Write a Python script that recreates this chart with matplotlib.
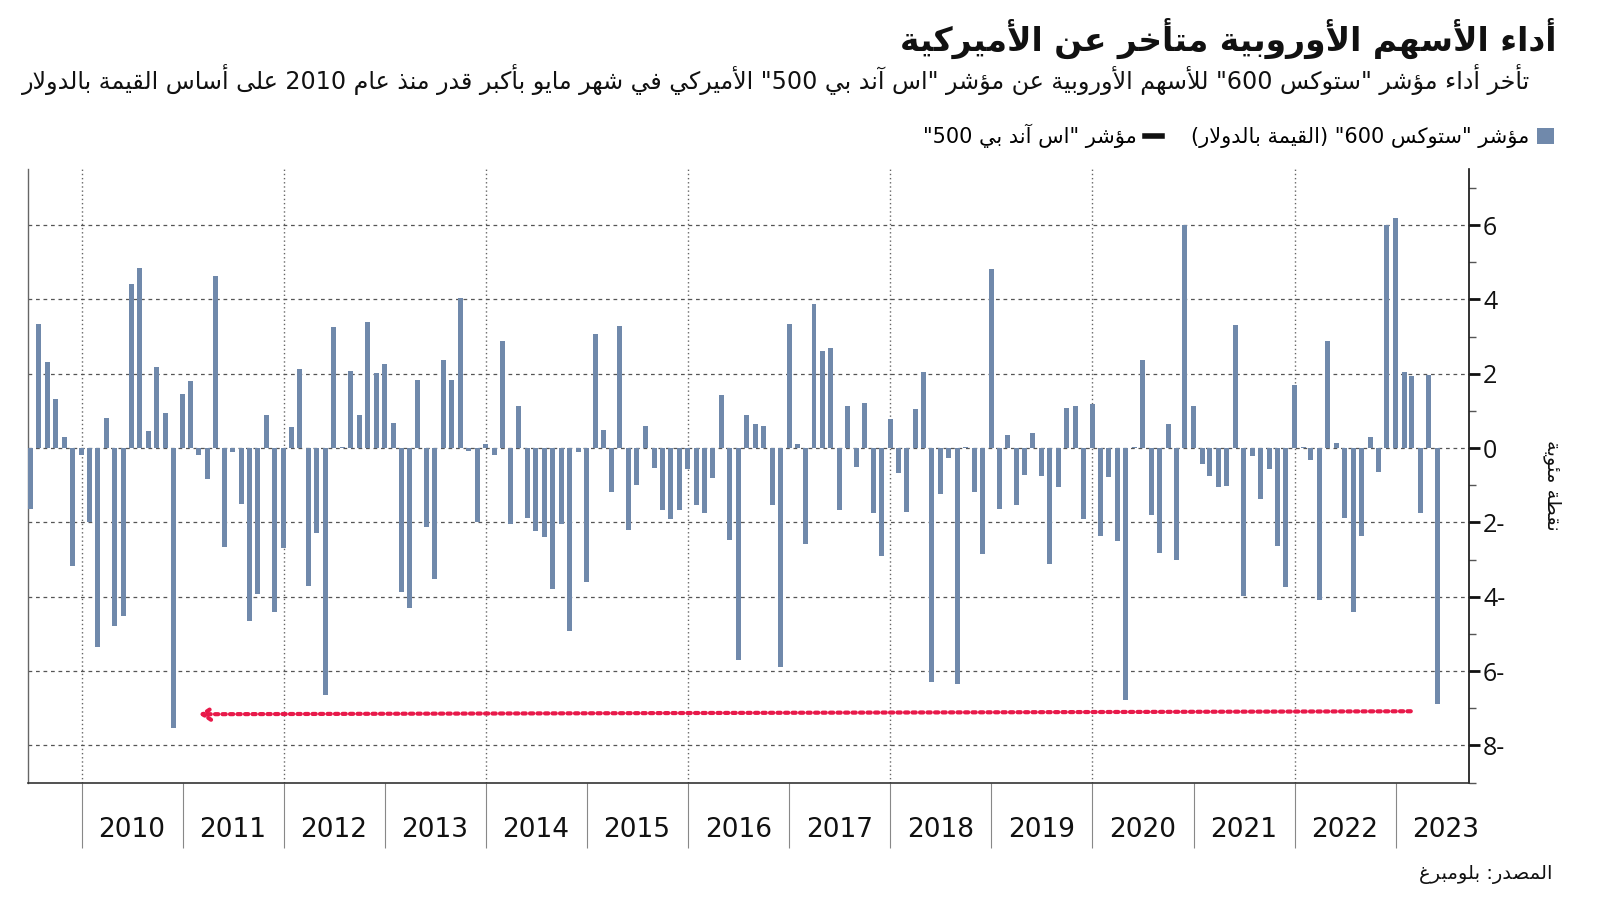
import re
import pandas as pd
import matplotlib
matplotlib.use("Agg")
import matplotlib.pyplot as plt
import matplotlib.dates as mdates
from matplotlib.patches import Patch
from matplotlib.lines import Line2D

# ---------------- data ----------------
start_month = "2009-06-01"
rel_perf = [
    -1.63, 3.35, 2.32, 1.31, 0.31, -3.17, -0.19,
    -2.00, -5.36, 0.80, -4.79, -4.51, 4.42, 4.86, 0.46, 2.18, 0.94, -7.54, 1.46,
    1.80, -0.19, -0.82, 4.63, -2.67, -0.11, -1.50, -4.64, -3.92, 0.88, -4.40, -2.68,
    0.56, 2.12, -3.71, -2.29, -6.64, 3.25, 0.02, 2.08, 0.88, 3.40, 2.02, 2.26,
    0.67, -3.88, -4.29, 1.84, -2.12, -3.53, 2.37, 1.84, 4.05, -0.09, -2.00, 0.11,
    -0.19, 2.87, -2.05, 1.14, -1.87, -2.22, -2.40, -3.80, -2.05, -4.91, -0.11, -3.60,
    3.08, 0.49, -1.19, 3.29, -2.19, -0.99, 0.60, -0.54, -1.66, -1.92, -1.66, -0.57,
    -1.53, -1.74, -0.81, 1.42, -2.46, -5.71, 0.88, 0.64, 0.60, -1.53, -5.88, 3.35,
    0.11, -2.57, 3.87, 2.60, 2.69, -1.66, 1.14, -0.50, 1.22, -1.74, -2.91, 0.78,
    -0.68, -1.71, 1.05, 2.05, -6.30, -1.23, -0.26, -6.34, 0.02, -1.19, -2.85, 4.81,
    -1.64, 0.35, -1.53, -0.71, 0.42, -0.76, -3.12, -1.05, 1.07, 1.12, -1.92, 1.18,
    -2.37, -0.78, -2.50, -6.78, 0.03, 2.37, -1.81, -2.81, 0.64, -3.01, 6.00, 1.12,
    -0.43, -0.74, -1.05, -1.02, 3.32, -3.99, -0.22, -1.36, -0.57, -2.63, -3.75, 1.70,
    0.02, -0.32, -4.09, 2.87, 0.15, -1.87, -4.40, -2.37, 0.31, -0.64, 6.00, 6.19,
    2.05, 1.93, -1.74, 1.98, -6.89,
]
years = list(range(2010, 2024))
year_labels = [str(y) for y in years]
y_ticks = [-8, -6, -4, -2, 0, 2, 4, 6]
y_minor = [-9, -7, -5, -3, -1, 1, 3, 5, 7]
arrow_from = ("2023-02-24", -7.08)
arrow_to = ("2011-03-01", -7.16)

title = "أداء الأسهم الأوروبية متأخر عن الأميركية"
subtitle = ('تأخر أداء مؤشر "ستوكس 600" للأسهم الأوروبية عن مؤشر "اس آند بي 500" '
            'الأميركي في شهر مايو بأكبر قدر منذ عام 2010 على أساس القيمة بالدولار')
legend_stoxx = 'مؤشر "ستوكس 600" (القيمة بالدولار)'
legend_sp = 'مؤشر "اس آند بي 500"'
y_label = "نقطة مئوية"
source = "المصدر: بلومبرغ"

# ---------------- minimal Arabic shaping + bidi ----------------
_spec = [("\u0621", 0xFE80, 1), ("\u0622", 0xFE81, 2), ("\u0623", 0xFE83, 2),
         ("\u0624", 0xFE85, 2), ("\u0625", 0xFE87, 2), ("\u0626", 0xFE89, 4),
         ("\u0627", 0xFE8D, 2), ("\u0628", 0xFE8F, 4), ("\u0629", 0xFE93, 2),
         ("\u062A", 0xFE95, 4), ("\u062B", 0xFE99, 4), ("\u062C", 0xFE9D, 4),
         ("\u062D", 0xFEA1, 4), ("\u062E", 0xFEA5, 4), ("\u062F", 0xFEA9, 2),
         ("\u0630", 0xFEAB, 2), ("\u0631", 0xFEAD, 2), ("\u0632", 0xFEAF, 2),
         ("\u0633", 0xFEB1, 4), ("\u0634", 0xFEB5, 4), ("\u0635", 0xFEB9, 4),
         ("\u0636", 0xFEBD, 4), ("\u0637", 0xFEC1, 4), ("\u0638", 0xFEC5, 4),
         ("\u0639", 0xFEC9, 4), ("\u063A", 0xFECD, 4), ("\u0641", 0xFED1, 4),
         ("\u0642", 0xFED5, 4), ("\u0643", 0xFED9, 4), ("\u0644", 0xFEDD, 4),
         ("\u0645", 0xFEE1, 4), ("\u0646", 0xFEE5, 4), ("\u0647", 0xFEE9, 4),
         ("\u0648", 0xFEED, 2), ("\u0649", 0xFEEF, 2), ("\u064A", 0xFEF1, 4)]
FORMS = {c: tuple(range(s, s + n)) for c, s, n in _spec}
LAMALEF = {"\u0622": (0xFEF5, 0xFEF6), "\u0623": (0xFEF7, 0xFEF8),
           "\u0625": (0xFEF9, 0xFEFA), "\u0627": (0xFEFB, 0xFEFC)}


def _dual(c):
    return c in FORMS and len(FORMS[c]) == 4


def shape(text):
    res = []
    i, n = 0, len(text)
    while i < n:
        c = text[i]
        if c in FORMS:
            conn_prev = i > 0 and _dual(text[i - 1])
            if c == "\u0644" and i + 1 < n and text[i + 1] in LAMALEF:
                lig = LAMALEF[text[i + 1]]
                res.append(chr(lig[1] if conn_prev else lig[0]))
                i += 2
                continue
            f = FORMS[c]
            if len(f) == 1:
                res.append(chr(f[0]))
            else:
                conn_next = _dual(c) and i + 1 < n and text[i + 1] in FORMS
                if conn_prev and conn_next:
                    g = f[3]
                elif conn_prev:
                    g = f[1]
                elif conn_next:
                    g = f[2]
                else:
                    g = f[0]
                res.append(chr(g))
        else:
            res.append(c)
        i += 1
    return "".join(res)


def ar(text):
    s = shape(text)
    toks = re.findall(r"[0-9A-Za-z]+|.", s)
    mirror = {"(": ")", ")": "("}
    return "".join(mirror.get(t, t) for t in reversed(toks))


# ---------------- figure ----------------
AR_FONT = ["DejaVu Sans"]
BAR_COLOR = "#7089ab"

months = pd.date_range(start_month, periods=len(rel_perf), freq="MS") + pd.offsets.MonthEnd(0)

fig = plt.figure(figsize=(16, 9.01), dpi=100)
ax = fig.add_axes([0.01725, 0.1314, 0.901, 0.6806])

ax.bar(months, rel_perf, width=18, color=BAR_COLOR, zorder=3)

ax.set_xlim(mdates.date2num(pd.Timestamp("2009-06-20")),
            mdates.date2num(pd.Timestamp("2023-09-23")))
ax.set_ylim(-9, 7.5)

# horizontal dashed grid
ax.set_yticks(y_ticks)
ax.yaxis.grid(True, linestyle=(0, (3, 3)), color="#555555", linewidth=0.9, zorder=1)
# vertical dotted grid every second year
for y in years[::2]:
    ax.axvline(mdates.date2num(pd.Timestamp(f"{y}-01-01")), color="#666666",
               linestyle=(0, (1, 2)), linewidth=1.0, zorder=1)

# x ticks: year boundaries (long) and centred labels
ax.set_xticks([mdates.date2num(pd.Timestamp(f"{y}-01-01")) for y in years])
ax.set_xticklabels([])
ax.set_xticks([mdates.date2num(pd.Timestamp(f"{y}-07-01")) for y in years],
              labels=year_labels, minor=True)
ax.tick_params(axis="x", which="major", length=47, width=0.8, color="#888888",
               labelbottom=False)
ax.tick_params(axis="x", which="minor", length=0, pad=25, labelsize=19)
for lab in ax.get_xticklabels(minor=True):
    lab.set_fontfamily(["Liberation Sans Narrow", "DejaVu Sans"])
    lab.set_color("#111111")

# y axis on the right
ax.yaxis.tick_right()
ax.set_yticks(y_ticks, labels=[f"{abs(v)}-" if v < 0 else f"{v}" for v in y_ticks])
ax.set_yticks(y_minor, minor=True)
ax.tick_params(axis="y", which="major", length=8, width=2, color="#111111",
               labelsize=18, pad=2)
ax.tick_params(axis="y", which="minor", length=5, width=1, color="#555555")
for lab in ax.get_yticklabels():
    lab.set_fontfamily(["Open Sans", "DejaVu Sans"])
    lab.set_color("#111111")

ax.spines["top"].set_visible(False)
ax.spines["left"].set_color("#666666")
ax.spines["left"].set_linewidth(1.0)
ax.spines["bottom"].set_color("#333333")
ax.spines["bottom"].set_linewidth(1.2)
ax.spines["right"].set_color("#111111")
ax.spines["right"].set_linewidth(1.2)

# red dotted arrow
ax.annotate("", xy=(mdates.date2num(pd.Timestamp(arrow_to[0])), arrow_to[1]),
            xytext=(mdates.date2num(pd.Timestamp(arrow_from[0])), arrow_from[1]),
            arrowprops=dict(arrowstyle="->,head_length=0.6,head_width=0.4",
                            color="#e8194a", lw=3.0, linestyle=(0, (0.8, 1.0)),
                            shrinkA=0, shrinkB=0),
            zorder=4)

# texts
fig.text(0.9725, 0.957, ar(title), ha="right", va="center", fontsize=23.7,
         fontweight="bold", family=AR_FONT, color="#111111")
fig.text(0.9566, 0.9117, ar(subtitle), ha="right", va="center", fontsize=17.1,
         family=AR_FONT, color="#111111")
fig.text(0.9706, 0.4617, ar(y_label), ha="center", va="center", fontsize=14,
         rotation=270, family=AR_FONT, color="#111111")
fig.text(0.9706, 0.0294, ar(source), ha="right", va="center", fontsize=14,
         family=AR_FONT, color="#111111")

handles = [Line2D([0], [0], color="#111111", lw=4),
           Patch(facecolor=BAR_COLOR, edgecolor="none")]
fig.legend(handles=handles, labels=[ar(legend_sp), ar(legend_stoxx)], ncol=2,
           loc="center right", bbox_to_anchor=(0.983, 0.849), frameon=False,
           markerfirst=False, handlelength=0.8, handleheight=0.8,
           handletextpad=0.4, columnspacing=1.4,
           prop={"family": AR_FONT, "size": 15})

fig.savefig("out.png", dpi=100)
